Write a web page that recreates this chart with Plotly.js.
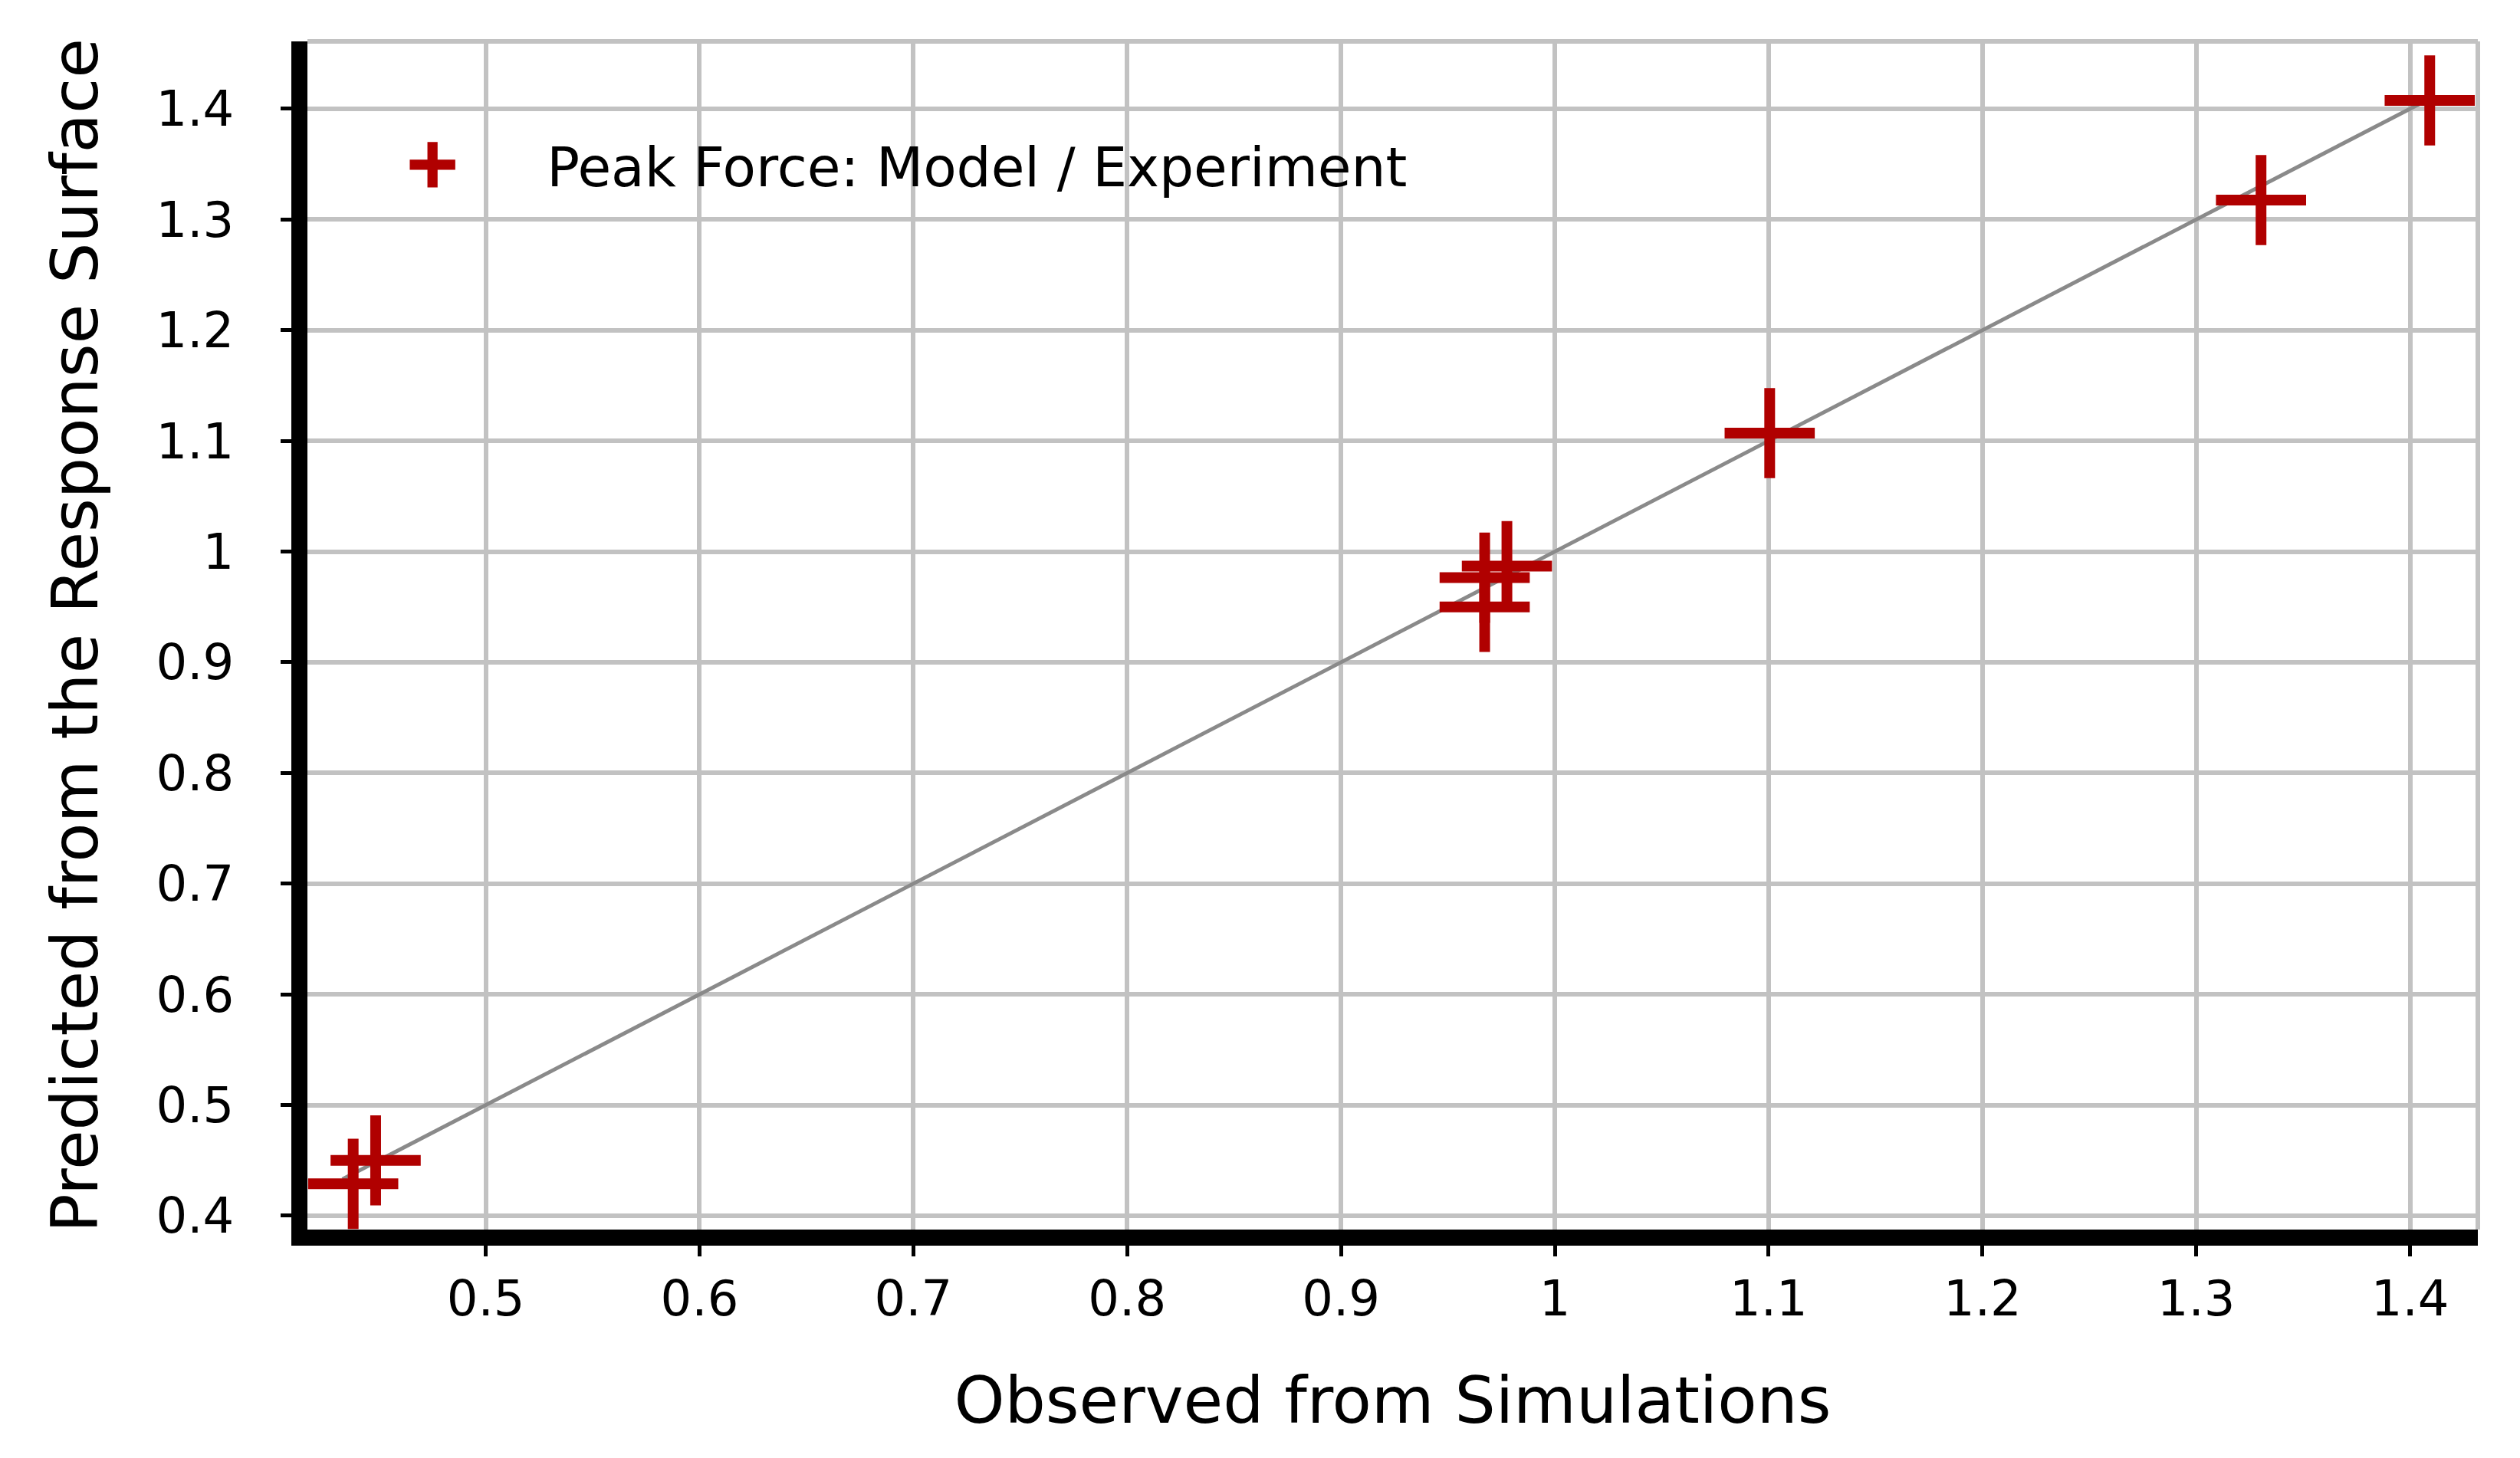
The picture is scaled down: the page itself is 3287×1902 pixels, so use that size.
<!DOCTYPE html>
<html>
<head>
<meta charset="utf-8">
<script src="https://cdn.plot.ly/plotly-3.0.1.min.js"></script>
<style>
    html, body {
        margin: 0;
        padding: 0;
        background: #ffffff;
    }

    #chart {
        width: 3287px;
        height: 1902px;
    }
</style>
</head>
<body>
<div id="chart"></div>
<script>
/******************************************************************************
 * Peak force: response surface prediction vs simulation
 ******************************************************************************/

// Observed from simulations (x) / predicted from the response surface (y)
const observed = [0.438, 0.4485, 0.9672, 0.9672, 0.9776, 1.1005, 1.3303, 1.4092];
const predicted = [0.4288, 0.450, 0.950, 0.9764, 0.9869, 1.107, 1.3175, 1.4076];

// y = x reference line, drawn over the span of the points
const refLineX = [0.433, 1.41];
const refLineY = [0.433, 1.41];

const seriesName = "Peak Force: Model / Experiment";
const xTitle = "Observed from Simulations";
const yTitle = "Predicted from the Response Surface";

const xTicks = [0.5, 0.6, 0.7, 0.8, 0.9, 1, 1.1, 1.2, 1.3, 1.4];
const yTicks = [0.4, 0.5, 0.6, 0.7, 0.8, 0.9, 1, 1.1, 1.2, 1.3, 1.4];

const RED = "#b00000";
const GRID = "#c2c2c2";
const FONT = "DejaVu Sans, Verdana, sans-serif";

const element = document.getElementById("chart");

function buildAxis(ticks, range, titleText, standoff, labelStandoff) {
    return {
        range,
        tickmode: "array",
        tickvals: ticks,
        ticktext: ticks.map(v => String(v)),
        showgrid: true,
        gridcolor: GRID,
        gridwidth: 6,
        zeroline: false,
        showline: true,
        linecolor: "#000000",
        linewidth: 21,
        ticks: "outside",
        ticklen: 14,
        tickwidth: 5,
        tickcolor: "#000000",
        ticklabelstandoff: labelStandoff,
        tickfont: {
            family: FONT,
            size: 64,
            color: "#000000"
        },
        title: {
            text: titleText,
            standoff,
            font: {
                family: FONT,
                size: 84,
                color: "#000000"
            }
        }
    };
}

const traces = [
    {
        x: refLineX,
        y: refLineY,
        type: "scatter",
        mode: "lines",
        showlegend: false,
        hoverinfo: "skip",
        line: {
            color: "#8a8a8a",
            width: 5
        }
    },
    {
        x: observed,
        y: predicted,
        name: seriesName,
        type: "scatter",
        mode: "markers",
        cliponaxis: true,
        marker: {
            symbol: "cross-thin",
            size: 84,
            color: RED,
            line: {
                color: RED,
                width: 14
            }
        }
    }
];

const layout = {
    width: 3287,
    height: 1902,
    paper_bgcolor: "#ffffff",
    plot_bgcolor: "#ffffff",

    font: {
        family: FONT,
        color: "#000000"
    },

    margin: {
        l: 401,
        r: 55,
        t: 54,
        b: 298
    },

    xaxis: buildAxis(xTicks, [0.4166, 1.4317], xTitle, 77, 0),
    yaxis: buildAxis(yTicks, [0.3875, 1.4609], yTitle, 58, 48),

    showlegend: true,
    legend: {
        x: 0.005,
        y: 0.896,
        xanchor: "left",
        yanchor: "middle",
        bgcolor: "rgba(0,0,0,0)",
        borderwidth: 0,
        itemwidth: 288,
        font: {
            family: FONT,
            size: 71,
            color: "#000000"
        }
    },

    // light frame on the top and right edges of the plot area
    shapes: [
        {
            type: "line",
            xref: "paper",
            yref: "paper",
            x0: 0,
            x1: 1,
            y0: 1,
            y1: 1,
            layer: "below",
            line: { color: GRID, width: 6 }
        },
        {
            type: "line",
            xref: "paper",
            yref: "paper",
            x0: 1,
            x1: 1,
            y0: 0,
            y1: 1,
            layer: "below",
            line: { color: GRID, width: 6 }
        }
    ]
};

const config = {
    displayModeBar: false,
    staticPlot: true
};

// Plotly caps legend symbols at 16px; scale ours up to match the plot marks.
function enlargeLegendSymbol() {
    element
        .querySelectorAll(".legend .legendpoints path.scatterpts")
        .forEach(path => {
            const base = path.getAttribute("transform") || "";
            if (base.indexOf("scale") === -1) {
                path.setAttribute("transform", base + " scale(2.65)");
            }
        });
}

Plotly.newPlot(element, traces, layout, config).then(() => {
    enlargeLegendSymbol();
    element.on("plotly_afterplot", enlargeLegendSymbol);
});
</script>
</body>
</html>
